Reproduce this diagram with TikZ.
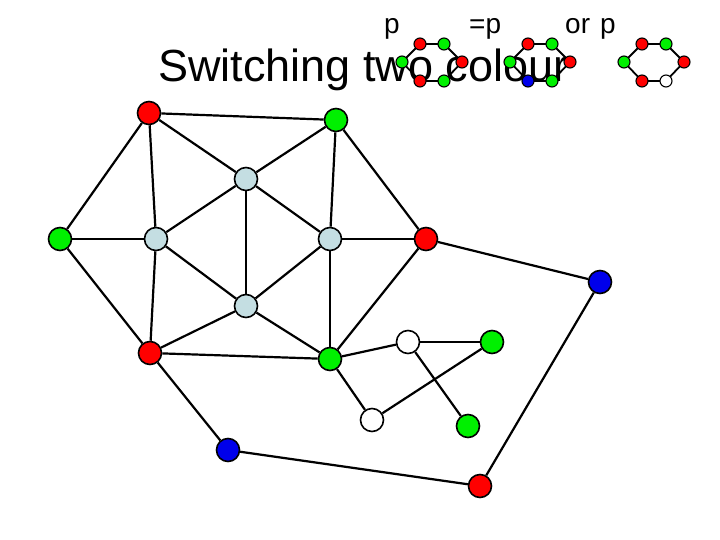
\documentclass[tikz,border=0pt]{standalone}
\usepackage{fontspec}
\setmainfont{Liberation Sans}
\definecolor{vred}{RGB}{255,0,0}
\definecolor{vgreen}{RGB}{0,240,0}
\definecolor{vblue}{RGB}{0,0,235}
\definecolor{vlight}{RGB}{196,222,226}
\begin{document}
\begin{tikzpicture}[x=1pt,y=-1pt,
  vtx/.style={circle,draw=black,line width=1.6pt,minimum size=23pt,inner sep=0pt},
  svtx/.style={circle,draw=black,line width=1.1pt,minimum size=12pt,inner sep=0pt},
  edge/.style={line width=2.2pt,black},
  sedge/.style={line width=1.8pt,black},
  lbl/.style={anchor=base west,inner sep=0pt,font=\fontsize{28}{32}\selectfont}]
\useasboundingbox[fill=white] (0,0) rectangle (720,540);
% title
\node[anchor=base west,inner sep=0pt,font=\fontsize{45}{50}\selectfont] (title) at (158,82) {Switching two colour};
\node[lbl] (p1) at (384,34) {p};
\node[lbl] (p2) at (469,34) {=p};
\node[lbl] (p3) at (565,34) {or};
\node[lbl] (p4) at (600,34) {p};
% small graphs
\foreach \g/\ox/\ca/\cb/\cc/\cd/\ce/\cf in {a/402/vred/vgreen/vgreen/vred/vred/vgreen, b/510/vred/vgreen/vgreen/vred/vblue/vgreen, c/624/vred/vgreen/vgreen/vred/vred/white}{
  \coordinate (\g tl) at (\ox+18,44);
  \coordinate (\g tr) at (\ox+42,44);
  \coordinate (\g l) at (\ox,62);
  \coordinate (\g r) at (\ox+60,62);
  \coordinate (\g bl) at (\ox+18,81);
  \coordinate (\g br) at (\ox+42,81);
  \draw[sedge] (\g l) -- (\g tl) -- (\g tr) -- (\g r) -- (\g br) -- (\g bl) -- cycle;
  \node[svtx,fill=\ca] (\g TL) at (\g tl) {};
  \node[svtx,fill=\cb] (\g TR) at (\g tr) {};
  \node[svtx,fill=\cc] (\g L) at (\g l) {};
  \node[svtx,fill=\cd] (\g R) at (\g r) {};
  \node[svtx,fill=\ce] (\g BL) at (\g bl) {};
  \node[svtx,fill=\cf] (\g BR) at (\g br) {};
}
% main graph nodes
\node[vtx,fill=vred]   (A) at (149,113) {};
\node[vtx,fill=vgreen] (B) at (336,120) {};
\node[vtx,fill=vgreen] (C) at (60,239) {};
\node[vtx,fill=vlight] (D) at (156,239) {};
\node[vtx,fill=vlight] (E) at (246,179) {};
\node[vtx,fill=vlight] (F) at (330,239) {};
\node[vtx,fill=vred]   (G) at (426,239) {};
\node[vtx,fill=vlight] (H) at (246,306) {};
\node[vtx,fill=vred]   (I) at (150,353) {};
\node[vtx,fill=vgreen] (J) at (330,359) {};
\node[vtx,fill=white]  (K) at (408,342) {};
\node[vtx,fill=vgreen] (L) at (492,342) {};
\node[vtx,fill=white]  (M) at (372,420) {};
\node[vtx,fill=vgreen] (N) at (468,426) {};
\node[vtx,fill=vblue]  (O) at (600,282) {};
\node[vtx,fill=vblue]  (P) at (228,450) {};
\node[vtx,fill=vred]   (Q) at (480,486) {};
% edges
\foreach \u/\v in {A/B,A/C,A/D,A/E,B/E,B/F,B/G,C/D,C/I,D/E,D/H,D/I,E/H,E/F,F/H,F/G,F/J,G/J,G/O,H/I,H/J,I/J,I/P,J/K,J/M,K/L,K/N,M/L,O/Q,P/Q}
  \draw[edge] (\u) -- (\v);
\end{tikzpicture}
\end{document}
